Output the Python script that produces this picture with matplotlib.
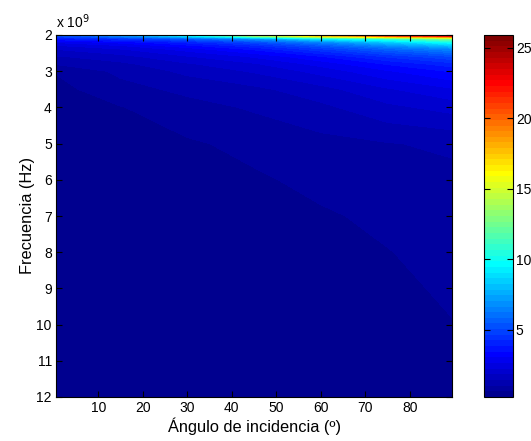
import numpy as np
import matplotlib
matplotlib.use("Agg")
import matplotlib.pyplot as plt
from matplotlib.colors import ListedColormap, Normalize
from matplotlib.cm import ScalarMappable
from matplotlib.ticker import FuncFormatter

plt.rcParams['font.family'] = ['Liberation Sans', 'DejaVu Sans']

# Incidence angle (degrees) and frequency (GHz) sample points
angles = [0.5, 15, 30, 45, 60, 75, 89.5]
freqs_ghz = [2.0, 2.1, 2.2, 2.3, 2.4, 2.6, 2.8, 3.0, 3.5, 4.0, 5.0, 6.0, 7.0, 8.0, 10.0, 12.0]

# Value at each (frequency, angle) sample, one row per frequency
row_2_0 = [5.5, 7.5, 10.5, 15.5, 20.0, 24.0, 25.9]
row_2_1 = [3.8, 4.4, 5.5, 7.0, 9.3, 11.0, 13.0]
row_2_2 = [2.7, 3.2, 4.0, 5.0, 6.5, 8.3, 10.0]
row_2_3 = [2.2, 2.6, 3.3, 4.1, 5.3, 6.7, 8.0]
row_2_4 = [1.85, 2.2, 2.8, 3.5, 4.5, 5.6, 6.5]
row_2_6 = [1.4, 1.7, 2.2, 2.7, 3.4, 4.3, 5.0]
row_2_8 = [1.08, 1.35, 1.8, 2.2, 2.8, 3.5, 4.1]
row_3_0 = [0.68, 1.15, 1.55, 1.9, 2.4, 3.0, 3.5]
row_3_5 = [0.52, 0.9, 1.15, 1.35, 1.7, 2.2, 2.6]
row_4_0 = [0.44, 0.63, 0.9, 1.1, 1.35, 1.75, 2.0]
row_5_0 = [0.37, 0.5, 0.6, 0.75, 0.92, 1.03, 1.12]
row_6_0 = [0.33, 0.42, 0.5, 0.6, 0.74, 0.87, 0.95]
row_7_0 = [0.31, 0.38, 0.44, 0.52, 0.61, 0.72, 0.84]
row_8_0 = [0.29, 0.35, 0.4, 0.46, 0.54, 0.64, 0.75]
row_10_0 = [0.27, 0.31, 0.35, 0.39, 0.45, 0.53, 0.64]
row_12_0 = [0.26, 0.29, 0.31, 0.34, 0.38, 0.44, 0.56]

values = np.array([row_2_0, row_2_1, row_2_2, row_2_3, row_2_4, row_2_6, row_2_8,
                   row_3_0, row_3_5, row_4_0, row_5_0, row_6_0, row_7_0, row_8_0,
                   row_10_0, row_12_0])

xticks = [10, 20, 30, 40, 50, 60, 70, 80]
yticks_ghz = [2, 3, 4, 5, 6, 7, 8, 9, 10, 11, 12]
cbar_ticks = [5, 10, 15, 20, 25]
vmin, vmax = 0.25, 25.9


def jet64():
    m = 64
    n = 16
    u = np.concatenate([np.arange(1, n + 1) / n, np.ones(n - 1), np.arange(n, 0, -1) / n])
    g = 8 + np.arange(1, len(u) + 1)
    r = g + n
    b = g - n
    J = np.zeros((m, 3))
    J[r[r <= m] - 1, 0] = u[r <= m]
    J[g[g <= m] - 1, 1] = u[g <= m]
    J[b[b >= 1] - 1, 2] = u[b >= 1]
    return ListedColormap(J)


cmap = jet64()
W, H = 531, 441
fig = plt.figure(figsize=(W / 100, H / 100), dpi=100)
ax = fig.add_axes([56 / W, 1 - 397 / H, 396 / W, 362 / H])
cax = fig.add_axes([484 / W, 1 - 397 / H, 29 / W, 362 / H])

freqs_hz = np.array(freqs_ghz) * 1e9
levels = np.linspace(vmin, vmax, 65)
ax.contourf(angles, freqs_hz, values, levels=levels, cmap=cmap, extend='both',
            antialiased=False)

ax.set_xlim(angles[0], angles[-1])
ax.set_ylim(12e9, 2e9)
ax.set_xticks(xticks)
ax.set_yticks(np.array(yticks_ghz) * 1e9)
ax.yaxis.set_major_formatter(FuncFormatter(lambda v, p: f"{v / 1e9:g}"))
ax.tick_params(direction='in', top=True, right=True, length=4, width=0.8,
               labelsize=10, pad=3)
for s in ax.spines.values():
    s.set_linewidth(0.8)
ax.set_xlabel('Ángulo de incidencia (º)', fontsize=11.8, labelpad=2)
ax.set_ylabel('Frecuencia (Hz)', fontsize=11.8, labelpad=1)
ax.text(0.0, 1.012, r'x 10$^{9}$', transform=ax.transAxes, fontsize=10,
        ha='left', va='bottom')

sm = ScalarMappable(norm=Normalize(vmin, vmax), cmap=cmap)
cb = fig.colorbar(sm, cax=cax, ticks=cbar_ticks)
cb.outline.set_linewidth(0.8)
cax.tick_params(direction='in', length=4, width=0.8, labelsize=10, left=True, right=True, pad=2)

fig.savefig('out.png', dpi=100)
